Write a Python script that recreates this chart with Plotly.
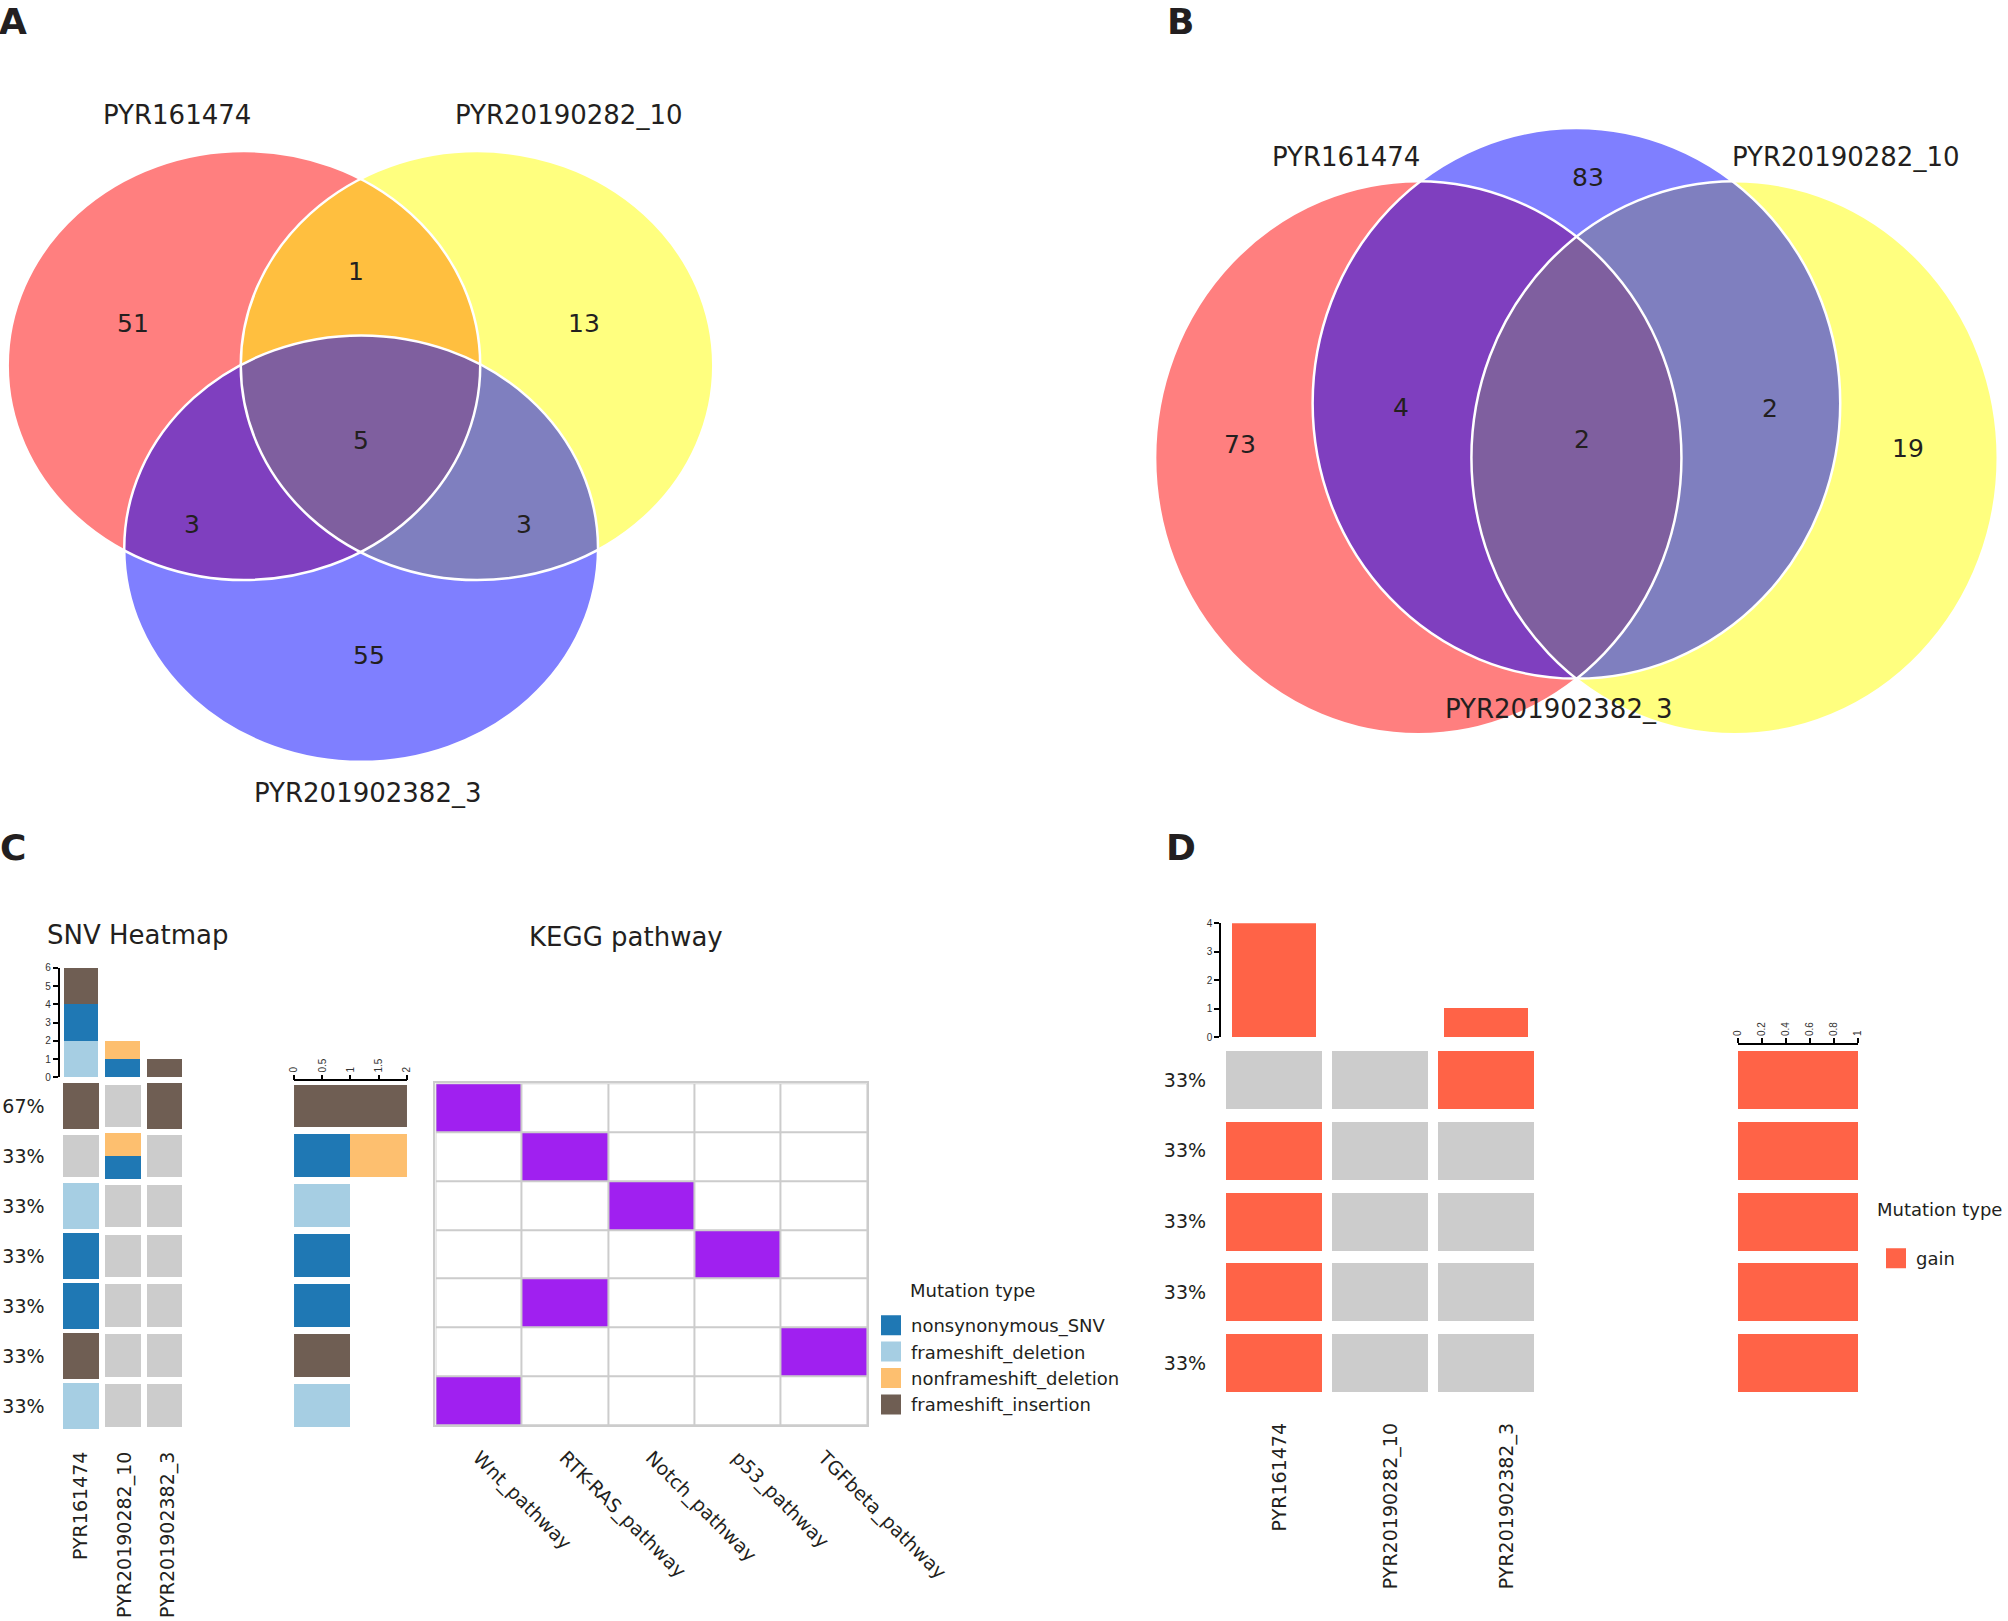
import plotly.graph_objects as go

# ---------------- data ----------------
samples = ["PYR161474", "PYR20190282_10", "PYR201902382_3"]

venn_a_regions = ["1", "2", "3", "1&2", "1&3", "2&3", "1&2&3"]
venn_a_counts = [51, 13, 55, 1, 3, 3, 5]
venn_b_regions = ["1", "2", "3", "1&3", "2&3", "1&2&3"]
venn_b_counts = [73, 19, 83, 4, 2, 2]

snv_genes = ["TCF7L2", "KIT", "SPEN", "TP53", "KRAS", "SMAD4", "APC"]
snv_freq = ["67%", "33%", "33%", "33%", "33%", "33%", "33%"]
mut_types = ["nonsynonymous_SNV", "frameshift_deletion",
             "nonframeshift_deletion", "frameshift_insertion"]
snv_pyr161474 = ["frameshift_insertion", "", "frameshift_deletion", "nonsynonymous_SNV",
                 "nonsynonymous_SNV", "frameshift_insertion", "frameshift_deletion"]
snv_pyr20190282_10 = ["", "nonframeshift_deletion;nonsynonymous_SNV", "", "", "", "", ""]
snv_pyr201902382_3 = ["frameshift_insertion", "", "", "", "", "", ""]

kegg_pathways = ["Wnt_pathway", "RTK-RAS_pathway", "Notch_pathway", "p53_pathway", "TGFbeta_pathway"]
gene_pathway = ["Wnt_pathway", "RTK-RAS_pathway", "Notch_pathway", "p53_pathway",
                "RTK-RAS_pathway", "TGFbeta_pathway", "Wnt_pathway"]

cnv_genes = ["TPCN", "LOC101929060", "LOC101928884", "MUC4", "FAM91A1"]
cnv_freq = ["33%", "33%", "33%", "33%", "33%"]
cnv_pyr161474 = ["", "gain", "gain", "gain", "gain"]
cnv_pyr20190282_10 = ["", "", "", "", ""]
cnv_pyr201902382_3 = ["gain", "", "", "", ""]

# ---------------- style / layout helpers ----------------
FIG_W, FIG_H = 2008, 1621
REF_W, REF_H = 1568.0, 1266.0


def fx(x):
    return x / REF_W


def fy(y):
    return 1 - y / REF_H


FONT = "DejaVu Sans"
TICKFONT = "Liberation Sans"
TXT = "#231f20"
GRAY = "#cccccc"
mut_colors = {"nonsynonymous_SNV": "#1f78b4", "frameshift_deletion": "#a6cee3",
              "nonframeshift_deletion": "#fdbf6f", "frameshift_insertion": "#6f5e53"}
stack_order = ["frameshift_deletion", "nonsynonymous_SNV",
               "nonframeshift_deletion", "frameshift_insertion"]
GAIN = "#ff6347"
PURPLE = "#a020f0"

venn_fill = ["rgba(255,0,0,0.5)", "rgba(255,255,0,0.5)", "rgba(0,0,255,0.5)"]
venn_a_geom = [(190.5, 285.5, 184.5, 167.5), (372.5, 285.5, 184.5, 167.5), (282, 428.5, 185, 166.5)]
venn_b_geom = [(1107.5, 357.5, 205.5, 216), (1354.5, 357.5, 205.5, 216), (1231, 315, 206, 215)]
venn_a_pos = [(104, 253), (456, 253), (288, 512), (278, 212), (150, 410), (409, 410), (282, 344)]
venn_b_pos = [(968, 347), (1490, 350), (1240, 139), (1094, 318), (1382, 319), (1235, 343)]
venn_a_label_pos = [(138, 90), (444, 90), (287, 619)]
venn_b_label_pos = [(1051, 123), (1441, 123), (1217, 554)]

fig = go.Figure()
shapes = []
annotations = []

# ---------------- Venn diagrams (A, B) ----------------
for geom in (venn_a_geom, venn_b_geom):
    for (cx, cy, rx, ry), col in zip(geom, venn_fill):
        shapes.append(dict(type="circle", xref="x", yref="y", x0=cx - rx, x1=cx + rx,
                           y0=cy - ry, y1=cy + ry, fillcolor=col, line=dict(width=0)))
    for (cx, cy, rx, ry) in geom:
        shapes.append(dict(type="circle", xref="x", yref="y", x0=cx - rx, x1=cx + rx,
                           y0=cy - ry, y1=cy + ry, fillcolor="rgba(0,0,0,0)",
                           line=dict(color="white", width=2.5)))

for counts, pos in ((venn_a_counts, venn_a_pos), (venn_b_counts, venn_b_pos)):
    for c, (x, y) in zip(counts, pos):
        annotations.append(dict(text=str(c), x=x, y=y, xref="x", yref="y", showarrow=False,
                                xanchor="center", yanchor="middle",
                                font=dict(family=FONT, size=25, color=TXT)))
for pos in (venn_a_label_pos, venn_b_label_pos):
    for name, (x, y) in zip(samples, pos):
        annotations.append(dict(text=name, x=x, y=y, xref="x", yref="y", showarrow=False,
                                xanchor="center", yanchor="middle",
                                font=dict(family=FONT, size=26, color=TXT)))

# ---------------- C: SNV heatmap ----------------
snv_cells = [snv_pyr161474, snv_pyr20190282_10, snv_pyr201902382_3]
TW, HC, HG = 0.85, 0.92, 0.85
tiles = {t: dict(x=[], base=[], h=[]) for t in mut_types + ["none"]}
for si, col in enumerate(snv_cells):
    for gi, v in enumerate(col):
        kinds = [k for k in v.split(";") if k]
        if not kinds:
            tiles["none"]["x"].append(si)
            tiles["none"]["base"].append(gi - HG / 2)
            tiles["none"]["h"].append(HG)
        else:
            part = HC / len(kinds)
            for ki, k in enumerate(kinds):
                tiles[k]["x"].append(si)
                tiles[k]["base"].append(gi - HC / 2 + ki * part)
                tiles[k]["h"].append(part)

for t in ["none"] + mut_types:
    d = tiles[t]
    if not d["x"]:
        continue
    fig.add_trace(go.Bar(x=d["x"], y=d["h"], base=d["base"], width=TW,
                         marker=dict(color=GRAY if t == "none" else mut_colors[t], line=dict(width=0)),
                         xaxis="x4", yaxis="y4", showlegend=False, hoverinfo="skip"))

# top bar: mutations per sample
cum_s = [0] * len(samples)
for t in stack_order:
    vals = [sum(1 for v in col for k in v.split(";") if k == t) for col in snv_cells]
    fig.add_trace(go.Bar(x=list(range(len(samples))), y=vals, base=list(cum_s), width=0.83,
                         marker=dict(color=mut_colors[t], line=dict(width=0)),
                         xaxis="x3", yaxis="y3", showlegend=False, hoverinfo="skip"))
    cum_s = [a + b for a, b in zip(cum_s, vals)]

# right bar: mutations per gene
cum_g = [0] * len(snv_genes)
for t in stack_order:
    vals = [sum(1 for col in snv_cells for k in col[gi].split(";") if k == t)
            for gi in range(len(snv_genes))]
    fig.add_trace(go.Bar(y=list(range(len(snv_genes))), x=vals, base=list(cum_g), width=0.86,
                         orientation="h",
                         marker=dict(color=mut_colors[t], line=dict(width=0)),
                         xaxis="x6", yaxis="y4", showlegend=False, hoverinfo="skip"))
    cum_g = [a + b for a, b in zip(cum_g, vals)]

# KEGG pathway grid
kegg_z = [[1 if gp == p else 0 for p in kegg_pathways] for gp in gene_pathway]
fig.add_trace(go.Heatmap(z=kegg_z, x=list(range(len(kegg_pathways))), y=list(range(len(snv_genes))),
                         colorscale=[[0, "white"], [1, PURPLE]], zmin=0, zmax=1, showscale=False,
                         xgap=2, ygap=2, xaxis="x7", yaxis="y7", hoverinfo="skip"))
shapes.append(dict(type="rect", xref="x7", yref="y7", x0=-0.5, x1=len(kegg_pathways) - 0.5,
                   y0=-0.5, y1=len(snv_genes) - 0.5, fillcolor=GRAY, line=dict(width=0), layer="below"))

# legend proxies C
for t in mut_types:
    fig.add_trace(go.Scatter(x=[None], y=[None], mode="markers", name=t, legend="legend",
                             marker=dict(symbol="square", size=16, color=mut_colors[t],
                                         line=dict(color=mut_colors[t], width=4)),
                             xaxis="x4", yaxis="y4", hoverinfo="skip"))

# ---------------- D: CNV heatmap ----------------
cnv_cells = [cnv_pyr161474, cnv_pyr20190282_10, cnv_pyr201902382_3]
DW_, DH_ = 0.9, 0.82
for kind, colr in (("", GRAY), ("gain", GAIN)):
    xs, bs, hs = [], [], []
    for si, col in enumerate(cnv_cells):
        for gi, v in enumerate(col):
            if v == kind:
                xs.append(si)
                bs.append(gi - DH_ / 2)
                hs.append(DH_)
    fig.add_trace(go.Bar(x=xs, y=hs, base=bs, width=DW_, marker=dict(color=colr, line=dict(width=0)),
                         xaxis="x9", yaxis="y9", showlegend=False, hoverinfo="skip"))

gain_per_sample = [sum(1 for v in col if v == "gain") for col in cnv_cells]
fig.add_trace(go.Bar(x=list(range(len(samples))), y=gain_per_sample, width=0.79,
                     marker=dict(color=GAIN, line=dict(width=0)),
                     xaxis="x8", yaxis="y8", showlegend=False, hoverinfo="skip"))
gain_per_gene = [sum(1 for col in cnv_cells if col[gi] == "gain") for gi in range(len(cnv_genes))]
fig.add_trace(go.Bar(y=list(range(len(cnv_genes))), x=gain_per_gene, width=DH_, orientation="h",
                     marker=dict(color=GAIN, line=dict(width=0)),
                     xaxis="x11", yaxis="y9", showlegend=False, hoverinfo="skip"))
fig.add_trace(go.Scatter(x=[None], y=[None], mode="markers", name="gain", legend="legend2",
                         marker=dict(symbol="square", size=16, color=GAIN, line=dict(color=GAIN, width=4)),
                         xaxis="x9", yaxis="y9", hoverinfo="skip"))

# ---------------- text annotations ----------------
for letter, (x, y) in zip("ABCD", [(10, 17), (922, 17), (10, 662), (922, 662)]):
    annotations.append(dict(text=letter, x=fx(x), y=fy(y), xref="paper", yref="paper", showarrow=False,
                            xanchor="center", yanchor="middle",
                            font=dict(family=FONT, size=36, color=TXT, weight="bold")))
for txt, (x, y) in (("SNV Heatmap", (107.5, 730)), ("KEGG pathway", (489, 732))):
    annotations.append(dict(text=txt, x=fx(x), y=fy(y), xref="paper", yref="paper", showarrow=False,
                            xanchor="center", yanchor="middle",
                            font=dict(family=FONT, size=26, color=TXT)))
for (x, y) in ((709, 1008), (1464, 945)):
    annotations.append(dict(text="Mutation type", x=fx(x), y=fy(y), xref="paper", yref="paper",
                            xanchor="left", yanchor="middle", showarrow=False,
                            font=dict(family=FONT, size=18, color=TXT)))

# ---------------- axes ----------------
def hidden(domain, rng, anchor):
    return dict(domain=domain, range=rng, visible=False, fixedrange=True, anchor=anchor)


def countaxis(domain, rng, anchor, vals, side=None, angle=None):
    d = dict(domain=domain, range=rng, anchor=anchor, showline=True, linecolor="black", linewidth=1.5,
             ticks="outside", ticklen=5, tickwidth=1.5, tickcolor="black", tickvals=vals,
             ticktext=[("%g" % v) for v in vals], tickfont=dict(family=TICKFONT, size=10, color="#333"),
             showgrid=False, zeroline=False, fixedrange=True)
    if side:
        d["side"] = side
    if angle is not None:
        d["tickangle"] = angle
    return d


def labelaxis(domain, rng, anchor, vals, text, size, angle=0, side=None, standoff=10, overlaying=None):
    d = dict(domain=domain, range=rng, anchor=anchor, tickvals=vals, ticktext=text, tickangle=angle,
             tickfont=dict(family=FONT, size=size, color=TXT), showline=False, ticks="",
             showgrid=False, zeroline=False, fixedrange=True, ticklabelstandoff=standoff)
    if side:
        d["side"] = side
    if overlaying:
        d["overlaying"] = overlaying
    return d


C_X = [fx(46.5), fx(144.5)]
C_Y = [fy(1117.5), fy(844.5)]
D_X = [fx(953.5), fx(1202)]
D_Y = [fy(1092), fy(816)]
ns, ng, nc = len(samples), len(snv_genes), len(cnv_genes)
c_label_shift = [0.0, 0.06, 0.1]
d_label_shift = [0.05, 0.1, 0.19]

layout_axes = dict(
    xaxis=hidden([0, 1], [0, REF_W], "y"),
    yaxis=hidden([fy(640), 1], [640, 0], "x"),
    xaxis3=hidden(C_X, [-0.5, ns - 0.5], "y3"),
    yaxis3=countaxis([fy(841.5), fy(756)], [0, 6], "x3", list(range(7))),
    xaxis4=labelaxis(C_X, [-0.5, ns - 0.5], "y4", [i + s for i, s in zip(range(ns), c_label_shift)],
                     samples, 19, angle=-90, standoff=16),
    yaxis4=labelaxis(C_Y, [ng - 0.5, -0.5], "x4", list(range(ng)), snv_freq, 19, standoff=14),
    yaxis5=labelaxis(C_Y, [ng - 0.5, -0.5], "x4", list(range(ng)), snv_genes, 19, side="right",
                     standoff=11, overlaying="y4"),
    xaxis6=countaxis([fx(229.6), fx(317.8)], [0, 2], "y4", [0, 0.5, 1, 1.5, 2], side="top", angle=-90),
    xaxis7=dict(labelaxis([fx(340), fx(677)], [-0.5, len(kegg_pathways) - 0.5], "y7",
                          list(range(len(kegg_pathways))), kegg_pathways, 19, angle=45, standoff=12),
                showline=True, mirror=True, linecolor=GRAY, linewidth=2),
    yaxis7=dict(domain=[fy(1113), fy(846)], range=[ng - 0.5, -0.5], anchor="x7", showticklabels=False,
                showline=True, mirror=True, linecolor=GRAY, linewidth=2, ticks="", showgrid=False,
                zeroline=False, fixedrange=True),
    xaxis8=hidden(D_X, [-0.5, ns - 0.5], "y8"),
    yaxis8=countaxis([fy(810), fy(721)], [0, 4], "x8", list(range(5))),
    xaxis9=labelaxis(D_X, [-0.5, ns - 0.5], "y9", [i + s for i, s in zip(range(ns), d_label_shift)],
                     samples, 19, angle=-90, standoff=20),
    yaxis9=labelaxis(D_Y, [nc - 0.5, -0.5], "x9", list(range(nc)), cnv_freq, 19, standoff=14),
    yaxis10=labelaxis(D_Y, [nc - 0.5, -0.5], "x9", list(range(nc)), cnv_genes, 19, side="right",
                      standoff=11, overlaying="y9"),
    xaxis11=countaxis([fx(1357), fx(1451)], [0, 1], "y9", [0, 0.2, 0.4, 0.6, 0.8, 1], side="top", angle=-90),
)

fig.update_layout(
    width=FIG_W, height=FIG_H, margin=dict(l=0, r=0, t=0, b=0),
    paper_bgcolor="white", plot_bgcolor="white", template="none",
    barmode="overlay", bargap=0, shapes=shapes, annotations=annotations,
    font=dict(family=FONT, color=TXT),
    legend=dict(x=871 / FIG_W, y=1 - 1307 / FIG_H, xanchor="left", yanchor="top",
                font=dict(family=FONT, size=18, color=TXT), bgcolor="rgba(0,0,0,0)",
                itemclick=False, itemdoubleclick=False, tracegroupgap=0),
    legend2=dict(x=1876 / FIG_W, y=1 - 1240 / FIG_H, xanchor="left", yanchor="top",
                 font=dict(family=FONT, size=18, color=TXT), bgcolor="rgba(0,0,0,0)",
                 itemclick=False, itemdoubleclick=False),
    showlegend=True,
    **layout_axes,
)

fig.write_html("out.html", config={"displayModeBar": False},
               post_script="document.body.style.margin='0';document.body.style.overflow='hidden';")
